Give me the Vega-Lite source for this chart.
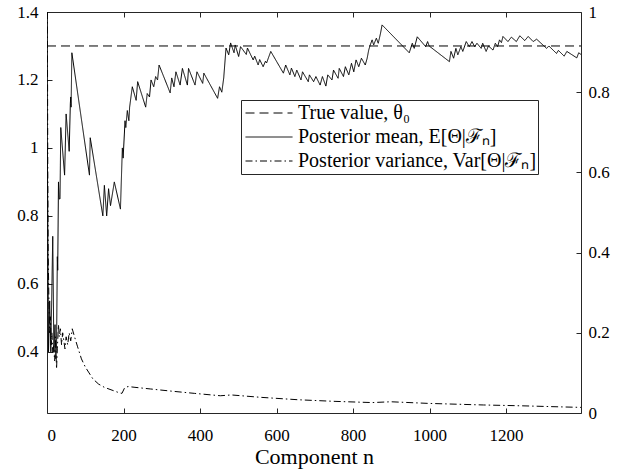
{
  "$schema": "https://vega.github.io/schema/vega-lite/v6.json",
  "width": 534,
  "height": 401,
  "autosize": {"type": "none"},
  "padding": {"left": 47, "top": 12, "right": 36, "bottom": 59},
  "background": "white",
  "config": {
    "view": {"stroke": "#262626", "strokeWidth": 1},
    "font": "Liberation Serif",
    "axis": {
      "grid": false, "domain": false,
      "tickColor": "#262626", "tickSize": -5, "tickWidth": 1,
      "labelFont": "Liberation Serif", "labelFontSize": 17, "labelColor": "#000",
      "titleFont": "Liberation Serif", "titleFontSize": 22, "titleFontWeight": "normal", "titleColor": "#000"
    }
  },
  "datasets": {
    "left": [
      {"s": "t", "n": 0, "v": 1.3}, {"s": "t", "n": 1396, "v": 1.3},
      {"s": "m", "n": 1, "v": 1.0}, {"s": "m", "n": 4, "v": 0.40}, {"s": "m", "n": 7, "v": 0.55}, {"s": "m", "n": 10, "v": 0.40},
      {"s": "m", "n": 15, "v": 0.74}, {"s": "m", "n": 18, "v": 0.40}, {"s": "m", "n": 21, "v": 0.48}, {"s": "m", "n": 23, "v": 0.38},
      {"s": "m", "n": 25, "v": 0.42}, {"s": "m", "n": 27, "v": 0.68}, {"s": "m", "n": 28, "v": 0.64}, {"s": "m", "n": 30, "v": 0.90},
      {"s": "m", "n": 32, "v": 0.85}, {"s": "m", "n": 34, "v": 0.85}, {"s": "m", "n": 36, "v": 1.06}, {"s": "m", "n": 46, "v": 0.92},
      {"s": "m", "n": 50, "v": 1.10}, {"s": "m", "n": 58, "v": 0.99}, {"s": "m", "n": 61, "v": 1.13}, {"s": "m", "n": 62, "v": 1.15},
      {"s": "m", "n": 63, "v": 1.12}, {"s": "m", "n": 65, "v": 1.28}, {"s": "m", "n": 111, "v": 0.92}, {"s": "m", "n": 113, "v": 1.03},
      {"s": "m", "n": 146, "v": 0.80}, {"s": "m", "n": 150, "v": 0.89}, {"s": "m", "n": 156, "v": 0.80}, {"s": "m", "n": 161, "v": 0.88},
      {"s": "m", "n": 166, "v": 0.83}, {"s": "m", "n": 176, "v": 0.90}, {"s": "m", "n": 192, "v": 0.82}, {"s": "m", "n": 197, "v": 1.00},
      {"s": "m", "n": 199, "v": 0.97}, {"s": "m", "n": 204, "v": 1.08}, {"s": "m", "n": 206, "v": 1.06}, {"s": "m", "n": 210, "v": 1.11},
      {"s": "m", "n": 214, "v": 1.08}, {"s": "m", "n": 216, "v": 1.12}, {"s": "m", "n": 223, "v": 1.18}, {"s": "m", "n": 233, "v": 1.14},
      {"s": "m", "n": 237, "v": 1.195}, {"s": "m", "n": 258, "v": 1.12}, {"s": "m", "n": 262, "v": 1.16}, {"s": "m", "n": 268, "v": 1.15},
      {"s": "m", "n": 272, "v": 1.20}, {"s": "m", "n": 279, "v": 1.18}, {"s": "m", "n": 284, "v": 1.21}, {"s": "m", "n": 289, "v": 1.20},
      {"s": "m", "n": 293, "v": 1.244}, {"s": "m", "n": 322, "v": 1.162}, {"s": "m", "n": 326, "v": 1.206}, {"s": "m", "n": 332, "v": 1.18},
      {"s": "m", "n": 337, "v": 1.224}, {"s": "m", "n": 348, "v": 1.185}, {"s": "m", "n": 354, "v": 1.234}, {"s": "m", "n": 367, "v": 1.185},
      {"s": "m", "n": 370, "v": 1.234}, {"s": "m", "n": 387, "v": 1.185}, {"s": "m", "n": 392, "v": 1.224}, {"s": "m", "n": 407, "v": 1.19},
      {"s": "m", "n": 410, "v": 1.22}, {"s": "m", "n": 446, "v": 1.146}, {"s": "m", "n": 451, "v": 1.18}, {"s": "m", "n": 457, "v": 1.164},
      {"s": "m", "n": 462, "v": 1.206}, {"s": "m", "n": 468, "v": 1.294}, {"s": "m", "n": 475, "v": 1.274}, {"s": "m", "n": 480, "v": 1.309},
      {"s": "m", "n": 489, "v": 1.28}, {"s": "m", "n": 492, "v": 1.303}, {"s": "m", "n": 501, "v": 1.269}, {"s": "m", "n": 506, "v": 1.298},
      {"s": "m", "n": 521, "v": 1.275}, {"s": "m", "n": 524, "v": 1.294}, {"s": "m", "n": 539, "v": 1.259}, {"s": "m", "n": 543, "v": 1.27},
      {"s": "m", "n": 552, "v": 1.244}, {"s": "m", "n": 556, "v": 1.26}, {"s": "m", "n": 565, "v": 1.239}, {"s": "m", "n": 571, "v": 1.255},
      {"s": "m", "n": 574, "v": 1.25}, {"s": "m", "n": 585, "v": 1.284}, {"s": "m", "n": 618, "v": 1.22}, {"s": "m", "n": 624, "v": 1.244},
      {"s": "m", "n": 635, "v": 1.215}, {"s": "m", "n": 639, "v": 1.235}, {"s": "m", "n": 648, "v": 1.21}, {"s": "m", "n": 653, "v": 1.229},
      {"s": "m", "n": 664, "v": 1.20}, {"s": "m", "n": 668, "v": 1.224}, {"s": "m", "n": 683, "v": 1.195}, {"s": "m", "n": 686, "v": 1.215},
      {"s": "m", "n": 697, "v": 1.195}, {"s": "m", "n": 703, "v": 1.21}, {"s": "m", "n": 714, "v": 1.185}, {"s": "m", "n": 720, "v": 1.21},
      {"s": "m", "n": 729, "v": 1.182}, {"s": "m", "n": 734, "v": 1.215}, {"s": "m", "n": 745, "v": 1.20}, {"s": "m", "n": 749, "v": 1.229},
      {"s": "m", "n": 761, "v": 1.205}, {"s": "m", "n": 764, "v": 1.234}, {"s": "m", "n": 775, "v": 1.21}, {"s": "m", "n": 780, "v": 1.239},
      {"s": "m", "n": 789, "v": 1.215}, {"s": "m", "n": 796, "v": 1.249}, {"s": "m", "n": 802, "v": 1.224}, {"s": "m", "n": 808, "v": 1.259},
      {"s": "m", "n": 815, "v": 1.239}, {"s": "m", "n": 822, "v": 1.264}, {"s": "m", "n": 832, "v": 1.244}, {"s": "m", "n": 837, "v": 1.264},
      {"s": "m", "n": 841, "v": 1.288}, {"s": "m", "n": 845, "v": 1.303}, {"s": "m", "n": 850, "v": 1.318}, {"s": "m", "n": 854, "v": 1.303},
      {"s": "m", "n": 861, "v": 1.323}, {"s": "m", "n": 866, "v": 1.308}, {"s": "m", "n": 872, "v": 1.338}, {"s": "m", "n": 876, "v": 1.362},
      {"s": "m", "n": 947, "v": 1.28}, {"s": "m", "n": 955, "v": 1.308}, {"s": "m", "n": 960, "v": 1.293}, {"s": "m", "n": 968, "v": 1.327},
      {"s": "m", "n": 990, "v": 1.298}, {"s": "m", "n": 995, "v": 1.313}, {"s": "m", "n": 999, "v": 1.30}, {"s": "m", "n": 1052, "v": 1.254},
      {"s": "m", "n": 1056, "v": 1.284}, {"s": "m", "n": 1063, "v": 1.264}, {"s": "m", "n": 1069, "v": 1.293}, {"s": "m", "n": 1074, "v": 1.274},
      {"s": "m", "n": 1082, "v": 1.298}, {"s": "m", "n": 1087, "v": 1.284}, {"s": "m", "n": 1096, "v": 1.313}, {"s": "m", "n": 1104, "v": 1.298},
      {"s": "m", "n": 1111, "v": 1.313}, {"s": "m", "n": 1118, "v": 1.298}, {"s": "m", "n": 1124, "v": 1.308}, {"s": "m", "n": 1135, "v": 1.293},
      {"s": "m", "n": 1139, "v": 1.308}, {"s": "m", "n": 1148, "v": 1.284}, {"s": "m", "n": 1154, "v": 1.30}, {"s": "m", "n": 1166, "v": 1.288},
      {"s": "m", "n": 1172, "v": 1.308}, {"s": "m", "n": 1178, "v": 1.298}, {"s": "m", "n": 1183, "v": 1.318}, {"s": "m", "n": 1188, "v": 1.31},
      {"s": "m", "n": 1192, "v": 1.328}, {"s": "m", "n": 1205, "v": 1.313}, {"s": "m", "n": 1214, "v": 1.326}, {"s": "m", "n": 1227, "v": 1.313},
      {"s": "m", "n": 1236, "v": 1.33}, {"s": "m", "n": 1249, "v": 1.316}, {"s": "m", "n": 1258, "v": 1.328}, {"s": "m", "n": 1271, "v": 1.313},
      {"s": "m", "n": 1280, "v": 1.32}, {"s": "m", "n": 1306, "v": 1.293}, {"s": "m", "n": 1312, "v": 1.30}, {"s": "m", "n": 1332, "v": 1.278},
      {"s": "m", "n": 1337, "v": 1.287}, {"s": "m", "n": 1352, "v": 1.27}, {"s": "m", "n": 1359, "v": 1.284}, {"s": "m", "n": 1385, "v": 1.265},
      {"s": "m", "n": 1390, "v": 1.28}, {"s": "m", "n": 1396, "v": 1.275}
    ],
    "right": [
      {"s": "v", "n": 1, "v": 1.0}, {"s": "v", "n": 2, "v": 0.62}, {"s": "v", "n": 3, "v": 0.40}, {"s": "v", "n": 5, "v": 0.28},
      {"s": "v", "n": 7, "v": 0.20}, {"s": "v", "n": 9, "v": 0.24}, {"s": "v", "n": 11, "v": 0.17}, {"s": "v", "n": 13, "v": 0.20},
      {"s": "v", "n": 15, "v": 0.15}, {"s": "v", "n": 17, "v": 0.17}, {"s": "v", "n": 20, "v": 0.13}, {"s": "v", "n": 22, "v": 0.19},
      {"s": "v", "n": 25, "v": 0.11}, {"s": "v", "n": 27, "v": 0.16}, {"s": "v", "n": 30, "v": 0.22}, {"s": "v", "n": 32, "v": 0.19},
      {"s": "v", "n": 35, "v": 0.21}, {"s": "v", "n": 38, "v": 0.17}, {"s": "v", "n": 41, "v": 0.20}, {"s": "v", "n": 44, "v": 0.18},
      {"s": "v", "n": 47, "v": 0.16}, {"s": "v", "n": 50, "v": 0.19}, {"s": "v", "n": 54, "v": 0.17}, {"s": "v", "n": 58, "v": 0.20},
      {"s": "v", "n": 62, "v": 0.18}, {"s": "v", "n": 66, "v": 0.21}, {"s": "v", "n": 72, "v": 0.19}, {"s": "v", "n": 80, "v": 0.165},
      {"s": "v", "n": 90, "v": 0.135}, {"s": "v", "n": 100, "v": 0.115}, {"s": "v", "n": 110, "v": 0.10}, {"s": "v", "n": 120, "v": 0.085},
      {"s": "v", "n": 135, "v": 0.072}, {"s": "v", "n": 150, "v": 0.064}, {"s": "v", "n": 170, "v": 0.057}, {"s": "v", "n": 190, "v": 0.05},
      {"s": "v", "n": 196, "v": 0.049}, {"s": "v", "n": 203, "v": 0.063}, {"s": "v", "n": 212, "v": 0.066}, {"s": "v", "n": 230, "v": 0.064},
      {"s": "v", "n": 270, "v": 0.06}, {"s": "v", "n": 320, "v": 0.055}, {"s": "v", "n": 385, "v": 0.049}, {"s": "v", "n": 453, "v": 0.043},
      {"s": "v", "n": 482, "v": 0.045}, {"s": "v", "n": 560, "v": 0.039}, {"s": "v", "n": 657, "v": 0.033}, {"s": "v", "n": 753, "v": 0.029},
      {"s": "v", "n": 850, "v": 0.026}, {"s": "v", "n": 899, "v": 0.028}, {"s": "v", "n": 996, "v": 0.024}, {"s": "v", "n": 1141, "v": 0.02},
      {"s": "v", "n": 1238, "v": 0.018}, {"s": "v", "n": 1354, "v": 0.015}, {"s": "v", "n": 1396, "v": 0.014}
    ]
  },
  "layer": [
    {
      "data": {"name": "left"},
      "mark": {"type": "line", "color": "black", "strokeWidth": 1, "clip": true},
      "encoding": {
        "x": {"field": "n", "type": "quantitative", "scale": {"domain": [0, 1396], "nice": false, "zero": false},
              "axis": {"orient": "bottom", "values": [0, 200, 400, 600, 800, 1000, 1200], "format": "d", "labelPadding": 19, "title": "Component n", "titleY": 50, "titleBaseline": "alphabetic"}},
        "y": {"field": "v", "type": "quantitative", "scale": {"domain": [0.22, 1.4], "nice": false, "zero": false},
              "axis": {"orient": "left", "values": [0.4, 0.6, 0.8, 1, 1.2, 1.4], "format": "~g", "labelPadding": 14, "title": null}},
        "strokeDash": {"field": "s", "type": "nominal",
          "scale": {"domain": ["t", "m", "v"], "range": [[9, 5], [1, 0], [7, 3, 1.5, 3]]},
          "legend": {"orient": "none", "legendX": 194, "legendY": 88, "title": null, "strokeColor": "#262626", "fillColor": "white",
                     "padding": 1, "symbolOffset": 3, "clipHeight": 24, "rowPadding": 0,
                     "symbolType": "stroke", "symbolSize": 2209, "symbolStrokeWidth": 1, "symbolStrokeColor": "black",
                     "labelFont": "Liberation Serif", "labelFontSize": 20, "labelOffset": 5, "labelLimit": 500, "cornerRadius": 0,
                     "labelExpr": "datum.label == 't' ? 'True value, θ₀' : datum.label == 'm' ? 'Posterior mean, E[Θ|ℱₙ]' : 'Posterior variance, Var[Θ|ℱₙ]'"}},
        "detail": {"field": "s"}
      }
    },
    {
      "data": {"name": "right"},
      "mark": {"type": "line", "color": "black", "strokeWidth": 1, "clip": true},
      "encoding": {
        "x": {"field": "n", "type": "quantitative", "scale": {"domain": [0, 1396], "nice": false, "zero": false},
              "axis": {"orient": "top", "values": [0, 200, 400, 600, 800, 1000, 1200], "labels": false, "title": null}},
        "y": {"field": "v", "type": "quantitative", "scale": {"domain": [0, 1], "nice": false, "zero": false},
              "axis": {"orient": "right", "values": [0, 0.2, 0.4, 0.6, 0.8, 1], "format": "~g", "labelPadding": 12, "title": null}},
        "strokeDash": {"field": "s", "type": "nominal"}
      }
    }
  ],
  "resolve": {"scale": {"y": "independent"}, "axis": {"x": "independent"}}
}
